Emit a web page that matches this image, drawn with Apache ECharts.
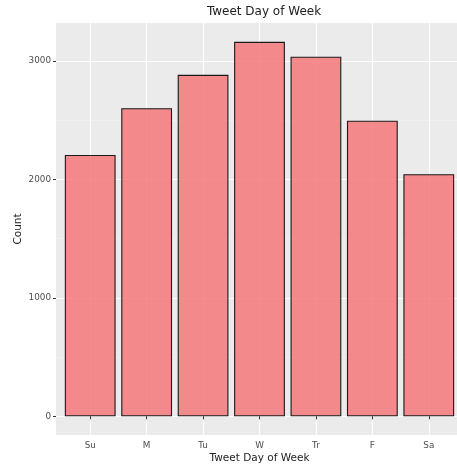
<!DOCTYPE html>
<html><head><meta charset="utf-8">
<script src="https://cdn.jsdelivr.net/npm/echarts@6/dist/echarts.min.js"></script>
<style>html,body{margin:0;padding:0;background:#fff}#c{width:457px;height:467px}</style>
</head><body><div id="c"></div>
<script>
const days = ['Su', 'M', 'Tu', 'W', 'Tr', 'F', 'Sa'];
const counts = [2206, 2600, 2882, 3160, 3034, 2495, 2043];
const yMajorTicks = [0, 1000, 2000, 3000];
const yMinorTicks = [500, 1500, 2500];
const yMin = -158, yMax = 3319;
const chart = echarts.init(document.getElementById('c'), null, {renderer: 'canvas'});
const FONT = 'DejaVu Sans';
chart.setOption({
  animation: false,
  backgroundColor: '#ffffff',
  title: {
    text: 'Tweet Day of Week', left: 259, top: 1, textAlign: 'center',
    textStyle: {fontFamily: FONT, fontSize: 12, fontWeight: 'normal', color: '#222'}
  },
  grid: [
    {left: 62, right: 0, top: 23, bottom: 32, containLabel: false, outerBoundsMode: 'none'},
    {left: 56, right: 0, top: 23, bottom: 32, containLabel: false, outerBoundsMode: 'none',
     show: true, backgroundColor: '#EBEBEB', borderWidth: 0, z: 0}
  ],
  xAxis: [
    {type: 'category', gridIndex: 0, data: days, boundaryGap: true,
     name: 'Tweet Day of Week', nameLocation: 'middle', nameGap: 18, nameMoveOverlap: false,
     nameTextStyle: {fontFamily: FONT, fontSize: 10.5, color: '#222'},
     axisLine: {show: false},
     axisTick: {show: true, alignWithLabel: true, length: 3, lineStyle: {color: '#333', width: 1}},
     axisLabel: {fontFamily: FONT, fontSize: 8.8, color: '#4D4D4D', margin: 6},
     splitLine: {show: true, alignWithLabel: true, lineStyle: {color: '#ffffff', width: 1.1}}
    },
    {type: 'value', gridIndex: 1, show: false, min: 0, max: 1}
  ],
  yAxis: [
    {type: 'value', gridIndex: 0, min: yMin, max: yMax, show: false, splitLine: {show: false}},
    {type: 'value', gridIndex: 1, min: yMin, max: yMax, position: 'left',
     name: 'Count', nameLocation: 'middle', nameRotate: 90, nameGap: 32, nameMoveOverlap: false,
     nameTextStyle: {fontFamily: FONT, fontSize: 10.5, color: '#222'},
     axisLine: {show: false},
     axisTick: {show: true, length: 3, customValues: yMajorTicks, lineStyle: {color: '#333', width: 1}},
     axisLabel: {fontFamily: FONT, fontSize: 8.8, color: '#4D4D4D', margin: 5, customValues: yMajorTicks,
                 formatter: v => String(v)},
     splitLine: {show: true, lineStyle: {color: '#ffffff', width: 1.1}}
    },
    {type: 'value', gridIndex: 1, min: yMin, max: yMax, position: 'left',
     axisLine: {show: false},
     axisTick: {show: false, customValues: yMinorTicks},
     axisLabel: {show: false, customValues: yMinorTicks},
     splitLine: {show: true, lineStyle: {color: '#F4F4F4', width: 0.6}}
    }
  ],
  series: [{
    type: 'bar', xAxisIndex: 0, yAxisIndex: 0, data: counts, barWidth: '90%',
    itemStyle: {color: 'rgba(246,120,122,0.85)', borderColor: '#1a1a1a', borderWidth: 1.1}
  }]
});
</script></body></html>
